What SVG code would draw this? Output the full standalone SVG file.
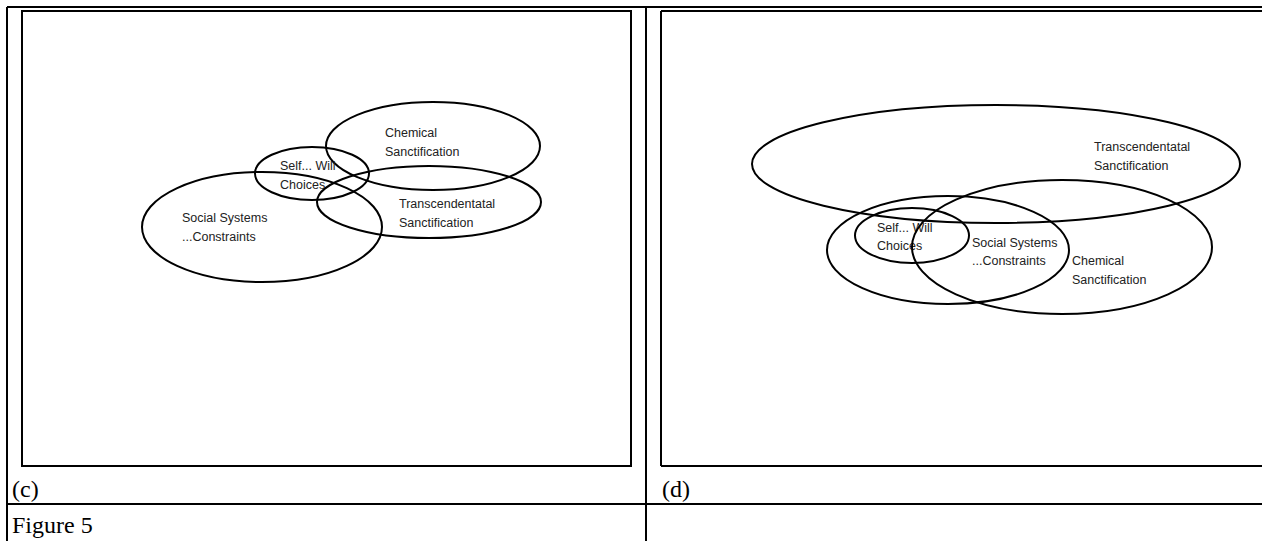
<svg xmlns="http://www.w3.org/2000/svg" width="1262" height="541" viewBox="0 0 1262 541">
<style>
.tbl{stroke:#000;stroke-width:2;fill:none}
.frame{stroke:#000;stroke-width:2;fill:none}
.ell{stroke:#000;stroke-width:2;fill:none}
.lbl{font-family:"Liberation Sans",Arial,sans-serif;font-size:12.5px;fill:#222}
.cap{font-family:"Liberation Serif","Times New Roman",serif;font-size:24px;fill:#000}
</style>
<rect width="1262" height="541" fill="#fff"/>
<g id="table">
<line class="tbl" x1="7" y1="7" x2="1262" y2="7"/>
<line class="tbl" x1="7" y1="7" x2="7" y2="541"/>
<line class="tbl" x1="646" y1="7" x2="646" y2="541"/>
<line class="tbl" x1="7" y1="504" x2="1262" y2="504"/>
</g>
<g id="frame-c">
<rect class="frame" x="22" y="11" width="609" height="455"/>
<line class="frame" x1="631" y1="11" x2="631" y2="467" stroke-width="3"/>
<line class="frame" x1="22" y1="466" x2="632" y2="466" stroke-width="3"/>
</g>
<g id="frame-d">
<line class="frame" x1="661" y1="11" x2="1262" y2="11"/>
<line class="frame" x1="661" y1="11" x2="661" y2="466"/>
<line class="frame" x1="661" y1="466" x2="1262" y2="466" stroke-width="3"/>
</g>
<g id="c-chemical">
<ellipse class="ell" cx="433" cy="146" rx="107" ry="44"/>
<text class="lbl" x="385" y="137">Chemical</text>
<text class="lbl" x="385" y="156">Sanctification</text>
</g>
<g id="c-self">
<ellipse class="ell" cx="312" cy="173.5" rx="57" ry="26.5"/>
<text class="lbl" x="280" y="170">Self... Will</text>
<text class="lbl" x="280" y="189">Choices</text>
</g>
<g id="c-transcendental">
<ellipse class="ell" cx="429" cy="202" rx="112" ry="36"/>
<text class="lbl" x="399" y="208">Transcendentatal</text>
<text class="lbl" x="399" y="227">Sanctification</text>
</g>
<g id="c-social">
<ellipse class="ell" cx="262" cy="227" rx="120" ry="55"/>
<text class="lbl" x="182" y="222">Social Systems</text>
<text class="lbl" x="182" y="241">...Constraints</text>
</g>
<g id="d-transcendental">
<ellipse class="ell" cx="996" cy="164" rx="244" ry="59"/>
<text class="lbl" x="1094" y="151">Transcendentatal</text>
<text class="lbl" x="1094" y="170">Sanctification</text>
</g>
<g id="d-social">
<ellipse class="ell" cx="948" cy="250" rx="121" ry="54"/>
<text class="lbl" x="972" y="247">Social Systems</text>
<text class="lbl" x="972" y="265">...Constraints</text>
</g>
<g id="d-self">
<ellipse class="ell" cx="912" cy="235.5" rx="57" ry="27.5"/>
<text class="lbl" x="877" y="232">Self... Will</text>
<text class="lbl" x="877" y="250">Choices</text>
</g>
<g id="d-chemical">
<ellipse class="ell" cx="1062" cy="247" rx="150" ry="67"/>
<text class="lbl" x="1072" y="265">Chemical</text>
<text class="lbl" x="1072" y="284">Sanctification</text>
</g>
<g id="captions">
<text class="cap" x="12" y="497">(c)</text>
<text class="cap" x="662" y="497">(d)</text>
<text class="cap" x="12" y="533">Figure 5</text>
</g>
</svg>
